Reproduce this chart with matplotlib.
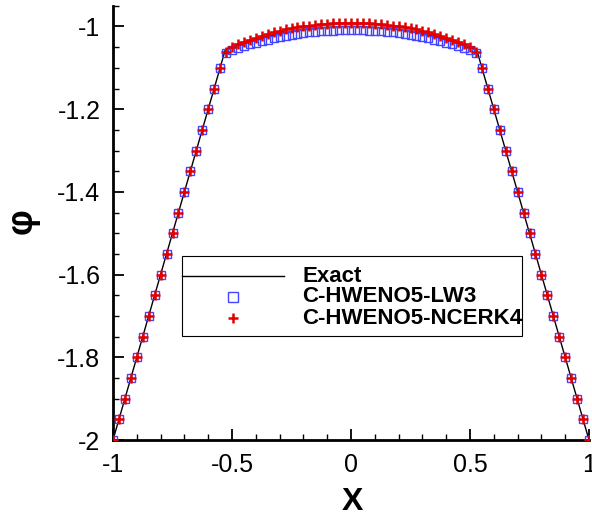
import matplotlib
matplotlib.use("Agg")
import matplotlib.pyplot as plt
from matplotlib.lines import Line2D
from matplotlib.patches import Rectangle

plt.rcParams['font.family'] = ['Liberation Sans', 'DejaVu Sans']
plt.rcParams['axes.unicode_minus'] = False

# ---------------- data ----------------
x_grid = [-1.000, -0.975, -0.950, -0.925, -0.900, -0.875, -0.850, -0.825, -0.800, -0.775,
          -0.750, -0.725, -0.700, -0.675, -0.650, -0.625, -0.600, -0.575, -0.550, -0.525,
          -0.500, -0.475, -0.450, -0.425, -0.400, -0.375, -0.350, -0.325, -0.300, -0.275,
          -0.250, -0.225, -0.200, -0.175, -0.150, -0.125, -0.100, -0.075, -0.050, -0.025,
          0.000,
          0.025, 0.050, 0.075, 0.100, 0.125, 0.150, 0.175, 0.200, 0.225, 0.250,
          0.275, 0.300, 0.325, 0.350, 0.375, 0.400, 0.425, 0.450, 0.475, 0.500,
          0.525, 0.550, 0.575, 0.600, 0.625, 0.650, 0.675, 0.700, 0.725, 0.750,
          0.775, 0.800, 0.825, 0.850, 0.875, 0.900, 0.925, 0.950, 0.975, 1.000]

lw3_phi = [-2.000, -1.950, -1.900, -1.850, -1.800, -1.750, -1.700, -1.650, -1.600, -1.550,
           -1.500, -1.450, -1.400, -1.350, -1.300, -1.250, -1.200, -1.150, -1.100, -1.063,
           -1.056, -1.051, -1.047, -1.043, -1.040, -1.036, -1.033, -1.029, -1.026, -1.023,
           -1.021, -1.018, -1.016, -1.014, -1.013, -1.012, -1.011, -1.010, -1.009, -1.009,
           -1.009,
           -1.009, -1.009, -1.010, -1.011, -1.012, -1.013, -1.014, -1.016, -1.018, -1.021,
           -1.023, -1.026, -1.029, -1.033, -1.036, -1.040, -1.043, -1.047, -1.051, -1.056,
           -1.063, -1.100, -1.150, -1.200, -1.250, -1.300, -1.350, -1.400, -1.450, -1.500,
           -1.550, -1.600, -1.650, -1.700, -1.750, -1.800, -1.850, -1.900, -1.950, -2.000]

ncerk4_phi = [-2.000, -1.950, -1.900, -1.850, -1.800, -1.750, -1.700, -1.650, -1.600, -1.550,
              -1.500, -1.450, -1.400, -1.350, -1.300, -1.250, -1.200, -1.150, -1.100, -1.061,
              -1.050, -1.042, -1.038, -1.032, -1.027, -1.022, -1.018, -1.014, -1.010, -1.007,
              -1.004, -1.002, -1.000, -0.998, -0.996, -0.994, -0.993, -0.992, -0.991, -0.991,
              -0.991,
              -0.991, -0.991, -0.992, -0.993, -0.994, -0.996, -0.998, -1.000, -1.002, -1.004,
              -1.007, -1.010, -1.014, -1.018, -1.022, -1.027, -1.032, -1.038, -1.042, -1.050,
              -1.061, -1.100, -1.150, -1.200, -1.250, -1.300, -1.350, -1.400, -1.450, -1.500,
              -1.550, -1.600, -1.650, -1.700, -1.750, -1.800, -1.850, -1.900, -1.950, -2.000]

exact_x = [-1.000, -0.528, -0.500, -0.450, -0.400, -0.350, -0.300, -0.250, -0.200, -0.150,
           -0.100, -0.050, 0.000, 0.050, 0.100, 0.150, 0.200, 0.250, 0.300, 0.350,
           0.400, 0.450, 0.500, 0.528, 1.000]
exact_phi = [-2.000, -1.056, -1.0504, -1.0408, -1.0322, -1.0246, -1.0181, -1.0125, -1.0080, -1.0045,
             -1.0020, -1.0005, -1.0000, -1.0005, -1.0020, -1.0045, -1.0080, -1.0125, -1.0181, -1.0246,
             -1.0322, -1.0408, -1.0504, -1.056, -2.000]

x_ticks = [-1, -0.5, 0, 0.5, 1]
x_tick_labels = ["-1", "-0.5", "0", "0.5", "1"]
y_ticks = [-2, -1.8, -1.6, -1.4, -1.2, -1]
y_tick_labels = ["-2", "-1.8", "-1.6", "-1.4", "-1.2", "-1"]
legend_labels = ["Exact", "C-HWENO5-LW3", "C-HWENO5-NCERK4"]

# ---------------- figure ----------------
W, H = 592, 518
fig = plt.figure(figsize=(W / 100, H / 100), dpi=100)
ax = fig.add_axes([113 / W, 1 - 440 / H, 476 / W, (440 - 5.8) / H])

blue = '#4545ff'
red = '#e00000'

ax.plot(exact_x, exact_phi, color='black', lw=1.0, zorder=3)
ax.plot(x_grid, lw3_phi, linestyle='none', marker='s', markersize=6.2,
        markerfacecolor='none', markeredgecolor=blue, markeredgewidth=1.0, zorder=4)
ax.plot(x_grid, ncerk4_phi, linestyle='none', marker='+', markersize=7.0,
        markeredgecolor=red, markeredgewidth=1.8, zorder=5)

ax.set_xlim(-1, 1)
ax.set_ylim(-2, -0.95)

ax.set_xticks(x_ticks)
ax.set_xticklabels(x_tick_labels)
ax.set_yticks(y_ticks)
ax.set_yticklabels(y_tick_labels)
ax.set_xticks([-0.9, -0.8, -0.7, -0.6, -0.4, -0.3, -0.2, -0.1, 0.1, 0.2, 0.3, 0.4,
               0.6, 0.7, 0.8, 0.9], minor=True)
ax.set_yticks([-1.95, -1.9, -1.85, -1.75, -1.7, -1.65, -1.55, -1.5, -1.45, -1.35, -1.3,
               -1.25, -1.15, -1.1, -1.05, -0.95], minor=True)

ax.tick_params(which='major', direction='in', length=8, width=1.3, labelsize=18, pad=9,
               top=False, right=False)
ax.tick_params(which='minor', direction='in', length=4.5, width=1.0, top=False, right=False)

for s in ['top', 'right']:
    ax.spines[s].set_visible(False)
for s in ['left', 'bottom']:
    ax.spines[s].set_linewidth(2.0)

ax.set_xlabel('X', fontsize=23, fontweight='bold', va='center')
ax.xaxis.set_label_coords(0.504, -0.143)
ax.set_ylabel('φ', fontsize=26, fontweight='bold', va='center', rotation=90)
ax.yaxis.set_label_coords(-0.19, 0.505)

# ---------------- legend (drawn in pixel-based axes fractions) ----------------
def fx(px):
    return (px - 113) / 476

def fy(py):
    return (440 - py) / (440 - 5.8)

rect = Rectangle((fx(182), fy(336)), fx(522) - fx(182), fy(256) - fy(336),
                 transform=ax.transAxes, facecolor='white', edgecolor='black',
                 linewidth=0.8, zorder=6)
ax.add_patch(rect)
row_y = [276, 297, 318]
ax.add_line(Line2D([fx(182), fx(284)], [fy(row_y[0])] * 2, transform=ax.transAxes,
                   color='black', lw=1.0, zorder=7))
ax.plot([fx(233)], [fy(row_y[1])], transform=ax.transAxes, marker='s', markersize=6.5,
        markerfacecolor='none', markeredgecolor=blue, markeredgewidth=1.0, zorder=7,
        clip_on=False)
ax.plot([fx(233)], [fy(row_y[2])], transform=ax.transAxes, marker='+', markersize=7.0,
        markeredgecolor=red, markeredgewidth=1.8, zorder=7, clip_on=False)
for lab, ry in zip(legend_labels, row_y):
    ax.text(fx(302), fy(ry), lab, transform=ax.transAxes, fontsize=16, fontweight='bold',
            ha='left', va='center', zorder=8)

fig.savefig('out.png', dpi=100)
